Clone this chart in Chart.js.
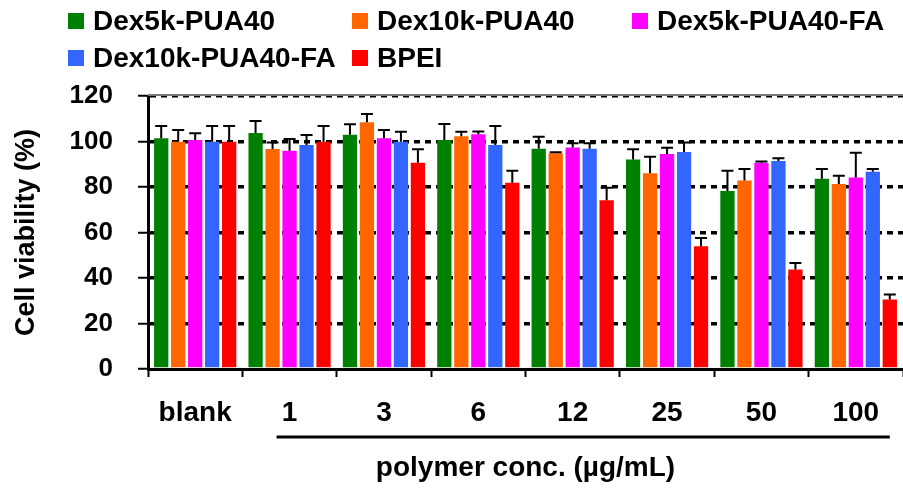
<!DOCTYPE html>
<html>
<head>
<meta charset="utf-8">
<script src="https://cdn.jsdelivr.net/npm/chart.js@4"></script>
<style>
  html, body { margin: 0; padding: 0; background: #fff; overflow: hidden; }
  #wrap { position: relative; width: 903px; height: 490px; }
  #legend { position: absolute; left: 0; top: 0; width: 903px; height: 80px;
            font: bold 28px "Liberation Sans", Arial, sans-serif; color: #000; }
  .item { position: absolute; display: flex; align-items: center; height: 32px; white-space: nowrap; }
  .box { width: 16px; height: 16px; margin-right: 9px; }
</style>
</head>
<body>
<div id="wrap">
  <canvas id="c" width="903" height="490"></canvas>
  <div id="legend"></div>
</div>
<script>
// categories (polymer concentration, µg/mL)
const categories = ['blank', '1', '3', '6', '12', '25', '50', '100'];
const yTicks = [0, 20, 40, 60, 80, 100, 120];

const seriesNames = ['Dex5k-PUA40', 'Dex10k-PUA40', 'Dex5k-PUA40-FA', 'Dex10k-PUA40-FA', 'BPEI'];
const seriesColors = ['#008000', '#FF6600', '#FF00FF', '#3366FF', '#FF0000'];

// cell viability (%) and upper error
const dex5kPua40 = [101.4, 103.7, 103.0, 100.7, 96.8, 92.1, 78.2, 83.6];
const dex5kPua40Err = [5.4, 5.3, 4.6, 7.0, 5.3, 4.5, 8.9, 4.3];
const dex10kPua40 = [99.9, 96.7, 108.5, 102.3, 94.8, 86.0, 82.9, 81.3];
const dex10kPua40Err = [5.2, 2.9, 3.6, 2.0, 0.5, 7.3, 5.0, 3.6];
const dex5kPua40Fa = [100.7, 95.9, 101.4, 103.2, 97.4, 94.5, 90.7, 84.2];
const dex5kPua40FaErr = [2.9, 5.2, 3.7, 1.2, 1.8, 2.8, 0.5, 10.9];
const dex10kPua40Fa = [99.9, 98.5, 99.9, 98.5, 96.8, 95.4, 91.4, 86.7];
const dex10kPua40FaErr = [6.9, 4.4, 4.4, 8.3, 2.4, 4.2, 1.2, 1.2];
const bpei = [99.9, 99.9, 90.7, 81.9, 74.2, 54.0, 43.7, 30.5];
const bpeiErr = [6.9, 6.9, 5.9, 5.2, 5.5, 3.6, 2.9, 2.2];

const values = [dex5kPua40, dex10kPua40, dex5kPua40Fa, dex10kPua40Fa, bpei];
const errors = [dex5kPua40Err, dex10kPua40Err, dex5kPua40FaErr, dex10kPua40FaErr, bpeiErr];

const FAMILY = '"Liberation Sans", Arial, sans-serif';
const tickFont = { family: FAMILY, size: 26, weight: 'bold' };
const bigFont = { family: FAMILY, size: 28, weight: 'bold' };

// html legend, three columns
const legendPos = [[68, 5], [352, 5], [632, 5], [68, 42], [352, 42]];
const legendEl = document.getElementById('legend');
seriesNames.forEach((name, i) => {
    const it = document.createElement('div');
    it.className = 'item';
    it.style.left = legendPos[i][0] + 'px';
    it.style.top = legendPos[i][1] + 'px';
    it.innerHTML = `<span class="box" style="background:${seriesColors[i]}"></span><span>${name}</span>`;
    legendEl.appendChild(it);
});

// upward error bars
const errorBars = {
    id: 'errorBars',
    afterDatasetsDraw(chart) {
        const { ctx } = chart;
        const y = chart.scales.y;
        ctx.save();
        ctx.strokeStyle = '#000';
        ctx.lineWidth = 2;
        chart.data.datasets.forEach((ds, i) => {
            chart.getDatasetMeta(i).data.forEach((bar, j) => {
                const top = y.getPixelForValue(ds.data[j] + ds.errors[j]);
                ctx.beginPath();
                ctx.moveTo(bar.x, bar.y);
                ctx.lineTo(bar.x, top);
                ctx.moveTo(bar.x - 6, top);
                ctx.lineTo(bar.x + 6, top);
                ctx.stroke();
            });
        });
        ctx.restore();
    }
};

// top frame line and the bracket line under the concentrations
const extras = {
    id: 'extras',
    afterDraw(chart) {
        const { ctx, chartArea } = chart;
        const x = chart.scales.x;
        ctx.save();
        ctx.strokeStyle = '#777';
        ctx.lineWidth = 2;
        ctx.beginPath();
        ctx.moveTo(chartArea.left, chartArea.top - 1);
        ctx.lineTo(chartArea.right, chartArea.top - 1);
        ctx.stroke();
        ctx.strokeStyle = '#000';
        ctx.lineWidth = 3;
        ctx.beginPath();
        ctx.moveTo(x.getPixelForValue(1) - 13, chartArea.bottom + 68);
        ctx.lineTo(x.getPixelForValue(7) + 34, chartArea.bottom + 68);
        ctx.stroke();
        ctx.restore();
    }
};

new Chart(document.getElementById('c'), {
    type: 'bar',
    data: {
        labels: categories,
        datasets: seriesNames.map((name, i) => ({
            label: name,
            data: values[i],
            errors: errors[i],
            backgroundColor: seriesColors[i],
            borderWidth: 0,
            categoryPercentage: 0.9,
            barPercentage: 0.84
        }))
    },
    options: {
        responsive: false,
        animation: false,
        layout: { padding: { top: 96, left: 0, right: 0, bottom: 0 } },
        plugins: { legend: { display: false }, tooltip: { enabled: false } },
        scales: {
            x: {
                offset: true,
                grid: { offset: true, drawOnChartArea: false, drawTicks: true, tickLength: 8, tickWidth: 2, tickColor: '#000' },
                border: { display: true, color: '#000', width: 3 },
                ticks: { color: '#000', font: bigFont, padding: 19, maxRotation: 0, autoSkip: false },
                title: { display: true, text: 'polymer conc. (µg/mL)', color: '#000', font: bigFont, padding: { top: 0, bottom: 5 } },
                afterFit: s => { s.height = 121; }
            },
            y: {
                min: 0,
                max: 120,
                afterBuildTicks: s => { s.ticks = yTicks.map(v => ({ value: v })); },
                grid: {
                    color: c => (c.tick && c.tick.value === 0) ? 'rgba(0,0,0,0)' : '#000',
                    lineWidth: 3.5,
                    drawTicks: true,
                    tickLength: 10,
                    tickWidth: 2,
                    tickColor: '#000'
                },
                border: { display: true, color: '#000', width: 3, dash: [6, 5] },
                ticks: { color: '#000', font: tickFont, padding: 25 },
                title: { display: true, text: 'Cell viability (%)', color: '#000', font: { family: FAMILY, size: 27, weight: 'bold' }, padding: { top: 10, bottom: 0 } },
                afterFit: s => { s.width = 148; }
            }
        }
    },
    plugins: [errorBars, extras]
});
</script>
</body>
</html>
